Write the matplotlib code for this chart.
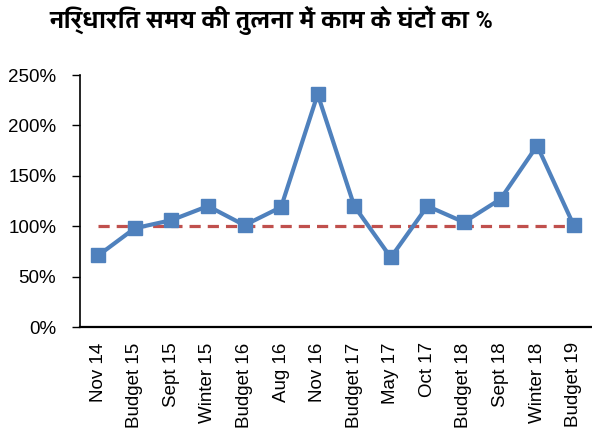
import matplotlib
matplotlib.use('Agg')
import matplotlib.pyplot as plt
from matplotlib import font_manager
from matplotlib.ticker import PercentFormatter

# periods, hours worked as % of scheduled time
labels = ['Nov 14', 'Budget 15', 'Sept 15', 'Winter 15', 'Budget 16', 'Aug 16', 'Nov 16',
          'Budget 17', 'May 17', 'Oct 17', 'Budget 18', 'Sept 18', 'Winter 18', 'Budget 19']
values = [71, 98, 106, 120, 101, 119, 231, 120, 69, 120, 104, 127, 180, 101]
baseline = [100] * len(labels)
title = 'निर्धारित समय की तुलना में काम के घंटों का %'

plt.rcParams['font.family'] = ['Liberation Sans', 'DejaVu Sans']
installed = {f.name for f in font_manager.fontManager.ttflist}
deva = [n for n in ['Yantramanav', 'Noto Sans Devanagari', 'Tiro Devanagari Hindi'] if n in installed]
title_family = deva[:1] + ['Liberation Sans', 'DejaVu Sans']

fig = plt.figure(figsize=(5.92, 4.34), dpi=100)
ax = fig.add_axes([0.135, 0.2465, 0.865, 0.5805])

x = list(range(len(labels)))
ax.plot(x, baseline, '--', color='#C0504D', lw=2.3, dashes=(3.5, 2.2), zorder=2)
ax.plot(x, values, '-s', color='#4F81BD', lw=3, markersize=10.5, zorder=3)

ax.set_xlim(-0.5, len(labels) - 0.5)
ax.set_ylim(0, 250)
ax.set_yticks(range(0, 251, 50))
ax.yaxis.set_major_formatter(PercentFormatter(decimals=0))
ax.set_xticks(x)
ax.set_xticklabels(labels, rotation=90)
ax.tick_params(axis='x', length=0, pad=11, labelsize=13.5)
ax.tick_params(axis='y', length=6, width=1, pad=11, labelsize=13.5)

for s in ['top', 'right']:
    ax.spines[s].set_visible(False)
ax.spines['left'].set_linewidth(1.2)
ax.spines['bottom'].set_linewidth(1.6)

fig.text(0.458, 0.953, title, ha='center', va='center', fontsize=18.5,
         fontweight='bold', family=title_family)

fig.savefig('out.png', dpi=100)
